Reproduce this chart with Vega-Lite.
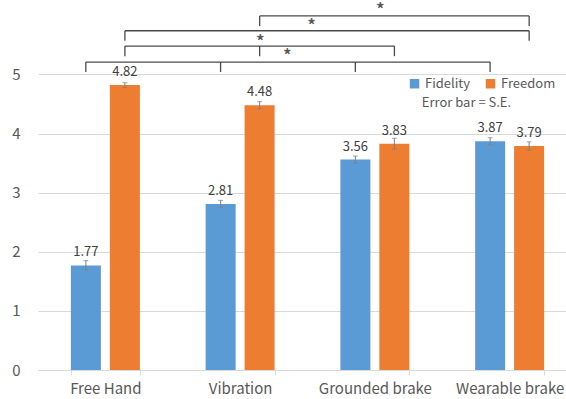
{
  "$schema": "https://vega.github.io/schema/vega-lite/v6.json",
  "width": 539,
  "height": 370,
  "autosize": {"type": "none"},
  "padding": {"left": 38, "top": 0, "right": -11, "bottom": 29},
  "background": "white",
  "config": {
    "view": {"stroke": null},
    "font": "Noto Sans CJK JP",
    "axis": {"labelFont": "Noto Sans CJK JP", "labelColor": "#595959", "labelFontSize": 15}
  },
  "datasets": {
    "bars": [
      {"condition": "Free Hand", "series": "Fidelity", "value": 1.77, "lo": 1.69, "hi": 1.85},
      {"condition": "Free Hand", "series": "Freedom", "value": 4.82, "lo": 4.78, "hi": 4.86},
      {"condition": "Vibration", "series": "Fidelity", "value": 2.81, "lo": 2.75, "hi": 2.87},
      {"condition": "Vibration", "series": "Freedom", "value": 4.48, "lo": 4.42, "hi": 4.54},
      {"condition": "Grounded brake", "series": "Fidelity", "value": 3.56, "lo": 3.50, "hi": 3.62},
      {"condition": "Grounded brake", "series": "Freedom", "value": 3.83, "lo": 3.74, "hi": 3.92},
      {"condition": "Wearable brake", "series": "Fidelity", "value": 3.87, "lo": 3.81, "hi": 3.93},
      {"condition": "Wearable brake", "series": "Freedom", "value": 3.79, "lo": 3.72, "hi": 3.86}
    ],
    "brackets": [
      {"x": 0.355, "x2": 3.355, "y": 5.21, "y2": 5.21},
      {"x": 0.355, "x2": 0.355, "y": 5.21, "y2": 5.04},
      {"x": 1.355, "x2": 1.355, "y": 5.21, "y2": 5.04},
      {"x": 2.355, "x2": 2.355, "y": 5.21, "y2": 5.04},
      {"x": 3.355, "x2": 3.355, "y": 5.21, "y2": 5.04},
      {"x": 0.645, "x2": 2.645, "y": 5.48, "y2": 5.48},
      {"x": 0.645, "x2": 0.645, "y": 5.48, "y2": 5.31},
      {"x": 1.645, "x2": 1.645, "y": 5.48, "y2": 5.31},
      {"x": 2.645, "x2": 2.645, "y": 5.48, "y2": 5.31},
      {"x": 0.645, "x2": 3.645, "y": 5.74, "y2": 5.74},
      {"x": 0.645, "x2": 0.645, "y": 5.74, "y2": 5.57},
      {"x": 3.645, "x2": 3.645, "y": 5.74, "y2": 5.57},
      {"x": 1.645, "x2": 3.645, "y": 5.99, "y2": 5.99},
      {"x": 1.645, "x2": 1.645, "y": 5.99, "y2": 5.82},
      {"x": 3.645, "x2": 3.645, "y": 5.99, "y2": 5.82}
    ],
    "stars": [
      {"x": 2.54, "y": 6.16, "label": "*"},
      {"x": 2.03, "y": 5.88, "label": "*"},
      {"x": 1.65, "y": 5.62, "label": "*"},
      {"x": 1.85, "y": 5.38, "label": "*"}
    ],
    "notes": [
      {"x": 3.18, "y": 4.52, "label": "Error bar = S.E."}
    ]
  },
  "layer": [
    {
      "data": {"name": "bars"},
      "encoding": {
        "x": {
          "field": "condition", "type": "nominal",
          "sort": ["Free Hand", "Vibration", "Grounded brake", "Wearable brake"],
          "scale": {"paddingInner": 0.488, "paddingOuter": 0.244},
          "axis": {"title": null, "labelAngle": 0, "domainColor": "#d9d9d9", "tickColor": "#d9d9d9", "tickBand": "extent", "tickSize": 5, "labelPadding": 6, "grid": false}
        },
        "xOffset": {
          "field": "series", "type": "nominal",
          "scale": {"paddingInner": 0.23, "paddingOuter": 0}
        }
      },
      "layer": [
        {
          "mark": {"type": "bar"},
          "encoding": {
            "y": {
              "field": "value", "type": "quantitative",
              "scale": {"domain": [0, 6.26], "nice": false},
              "axis": {"title": null, "values": [0, 1, 2, 3, 4, 5], "format": "d", "domain": false, "ticks": false, "labelPadding": 18, "gridColor": "#d9d9d9", "gridWidth": 1}
            },
            "color": {
              "field": "series", "type": "nominal",
              "scale": {"domain": ["Fidelity", "Freedom"], "range": ["#5B9BD5", "#ED7D31"]},
              "legend": {
                "title": null, "orient": "none", "direction": "horizontal",
                "legendX": 370, "legendY": 77,
                "symbolType": "square", "symbolSize": 90, "symbolStrokeWidth": 0,
                "labelFontSize": 13, "labelColor": "#595959", "labelFont": "Noto Sans CJK JP",
                "columnPadding": 14, "labelOffset": 4
              }
            }
          }
        },
        {
          "mark": {"type": "rule", "color": "#7f7f7f", "strokeWidth": 1},
          "encoding": {
            "y": {"field": "lo", "type": "quantitative"},
            "y2": {"field": "hi"}
          }
        },
        {
          "mark": {"type": "tick", "color": "#7f7f7f", "size": 5, "thickness": 1},
          "encoding": {"y": {"field": "lo", "type": "quantitative"}}
        },
        {
          "mark": {"type": "tick", "color": "#7f7f7f", "size": 5, "thickness": 1},
          "encoding": {"y": {"field": "hi", "type": "quantitative"}}
        },
        {
          "mark": {"type": "text", "dy": -13, "fontSize": 13, "color": "#404040", "baseline": "middle"},
          "encoding": {
            "y": {"field": "value", "type": "quantitative"},
            "text": {"field": "value", "type": "quantitative", "format": ".2f"}
          }
        }
      ]
    },
    {
      "layer": [
        {
          "data": {"name": "brackets"},
          "mark": {"type": "rule", "color": "#4a4a4a", "strokeWidth": 1.3},
          "encoding": {
            "x": {"field": "x", "type": "quantitative", "scale": {"domain": [0, 4], "nice": false, "zero": false}, "axis": null},
            "x2": {"field": "x2"},
            "y": {"field": "y", "type": "quantitative"},
            "y2": {"field": "y2"}
          }
        },
        {
          "data": {"name": "stars"},
          "mark": {"type": "text", "fontSize": 16, "color": "#595959", "baseline": "middle", "dy": 4, "fontWeight": "bold"},
          "encoding": {
            "x": {"field": "x", "type": "quantitative", "axis": null},
            "y": {"field": "y", "type": "quantitative"},
            "text": {"field": "label"}
          }
        },
        {
          "data": {"name": "notes"},
          "mark": {"type": "text", "fontSize": 13, "color": "#595959", "baseline": "middle"},
          "encoding": {
            "x": {"field": "x", "type": "quantitative", "axis": null},
            "y": {"field": "y", "type": "quantitative"},
            "text": {"field": "label"}
          }
        }
      ]
    }
  ],
  "resolve": {"scale": {"x": "independent"}}
}
